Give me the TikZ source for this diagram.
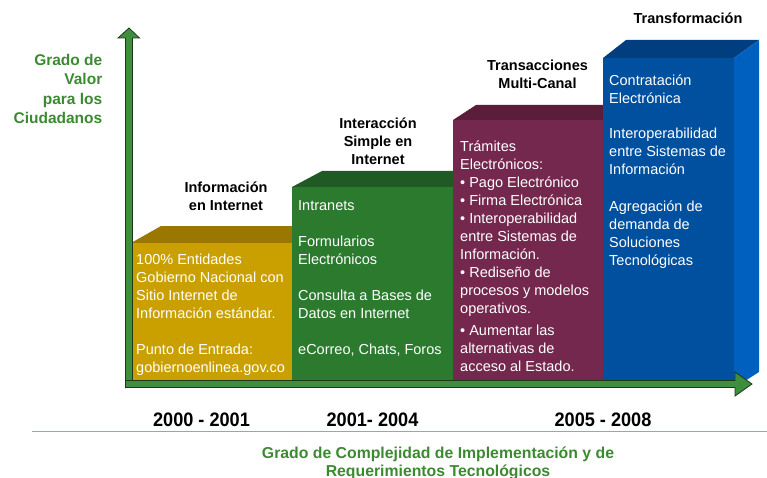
\documentclass[tikz,border=0pt]{standalone}
\usepackage{fontspec}
\setmainfont{Liberation Sans}
\usepackage{graphicx}
\definecolor{goldF}{HTML}{C9A000}
\definecolor{goldT}{HTML}{9A7800}
\definecolor{greenF}{HTML}{2B7A2E}
\definecolor{greenT}{HTML}{1F5A24}
\definecolor{purpF}{HTML}{75284D}
\definecolor{purpT}{HTML}{5A1E3A}
\definecolor{blueF}{HTML}{0050A0}
\definecolor{blueT}{HTML}{003E80}
\definecolor{blueS}{HTML}{0060C0}
\definecolor{axisG}{HTML}{3E8E3E}
\definecolor{axisD}{HTML}{1A3A1A}
\definecolor{labG}{HTML}{3B8A30}
\definecolor{lineGold}{HTML}{D4A80A}
\begin{document}
\begin{tikzpicture}[x=1pt,y=-1pt,
  boxtext/.style={anchor=north west, inner sep=0pt, align=left, text=white,
    font=\fontsize{14.5}{18}\selectfont},
  stagetitle/.style={anchor=north, inner sep=0pt, align=center,
    font=\fontsize{14.5}{18}\selectfont\bfseries},
  yearlab/.style={anchor=base, inner sep=0pt, font=\fontsize{19.5}{22}\selectfont\bfseries},
  axislab/.style={inner sep=0pt, text=labG, font=\fontsize{15.8}{18}\selectfont\bfseries},
  axisshape/.style={fill=axisG, draw=axisD, line width=0.8pt, line join=miter}]
\useasboundingbox (0,0) rectangle (767,478);
% gold box
\fill[goldT] (131,243) -- (161,226) -- (330,226) -- (300,243) -- cycle;
\fill[goldF] (131,243) rectangle (300,384);
% green box
\fill[greenT] (292,187) -- (322,171) -- (490,171) -- (460,187) -- cycle;
\fill[greenF] (292,187) rectangle (460,384);
% purple box
\fill[purpT] (453,120) -- (476,105) -- (633,105) -- (610,120) -- cycle;
\fill[purpF] (453,120) rectangle (610,384);
% blue box
\fill[blueT] (603,58) -- (626,40) -- (759,40) -- (734,58) -- cycle;
\fill[blueS] (734,58) -- (759,40) -- (759,372) -- (734,388) -- cycle;
\fill[blueF] (603,58) rectangle (734,388);
% axes
\draw[axisshape] (125.5,387.5) -- (125.5,38) -- (118,38) -- (129,28) -- (139.5,38) -- (132.5,38) -- (132.5,380.5) -- cycle;
\draw[axisshape] (125.5,380.5) -- (735,380.5) -- (735,372) -- (752,384) -- (735,396) -- (735,387.5) -- (125.5,387.5) -- cycle;
% separator line
\draw[lineGold, line width=1.8pt] (32,431.5) -- (767,431.5);
% box texts
\node[boxtext] (t1) at (136,251.4) {\strut 100\% Entidades\\Gobierno Nacional con\\Sitio Internet de\\Información estándar.\\[18pt]Punto de Entrada:\\gobiernoenlinea.gov.co};
\node[boxtext] (t2) at (298,197.6) {\strut Intranets\\[18pt]Formularios\\Electrónicos\\[18pt]Consulta a Bases de\\Datos en Internet\\[18pt]eCorreo, Chats, Foros};
\node[boxtext] (t3) at (460,138.2) {\strut Trámites\\Electrónicos:\\• Pago Electrónico\\• Firma Electrónica\\• Interoperabilidad\\entre Sistemas de\\Información.\\• Rediseño de\\procesos y modelos\\operativos.\\[4pt]• Aumentar las\\alternativas de\\acceso al Estado.};
\node[boxtext] (t4) at (609,72.4) {\strut Contratación\\Electrónica\\[17pt]Interoperabilidad\\entre Sistemas de\\Información\\[19pt]Agregación de\\demanda de\\Soluciones\\Tecnológicas};
% stage titles
\node[stagetitle] (h1) at (226,179.4) {\strut Información\\en Internet};
\node[stagetitle] (h2) at (378,115.4) {\strut Interacción\\Simple en\\Internet};
\node[stagetitle] (h3) at (537.5,57.4) {\strut Transacciones\\Multi-Canal};
\node[stagetitle] (h4) at (688,10.4) {\strut Transformación};
% y axis label
\node[anchor=north east, inner sep=0pt, align=right, text=labG,
  font=\fontsize{15.5}{19.5}\selectfont\bfseries] (ylab) at (102.5,51.4)
  {\strut Grado de\\Valor\\para los\\Ciudadanos};
% years
\node[yearlab] (y1) at (201.5,426) {\scalebox{0.93}[1]{2000 - 2001}};
\node[yearlab] (y2) at (372.5,426) {\scalebox{0.93}[1]{2001- 2004}};
\node[yearlab] (y3) at (603,426) {\scalebox{0.93}[1]{2005 - 2008}};
% x axis label
\node[axislab, anchor=base] (xlabA) at (438,458) {Grado de Complejidad de Implementación y de};
\node[axislab, anchor=base] (xlabB) at (438,476) {Requerimientos Tecnológicos};
\end{tikzpicture}
\end{document}
